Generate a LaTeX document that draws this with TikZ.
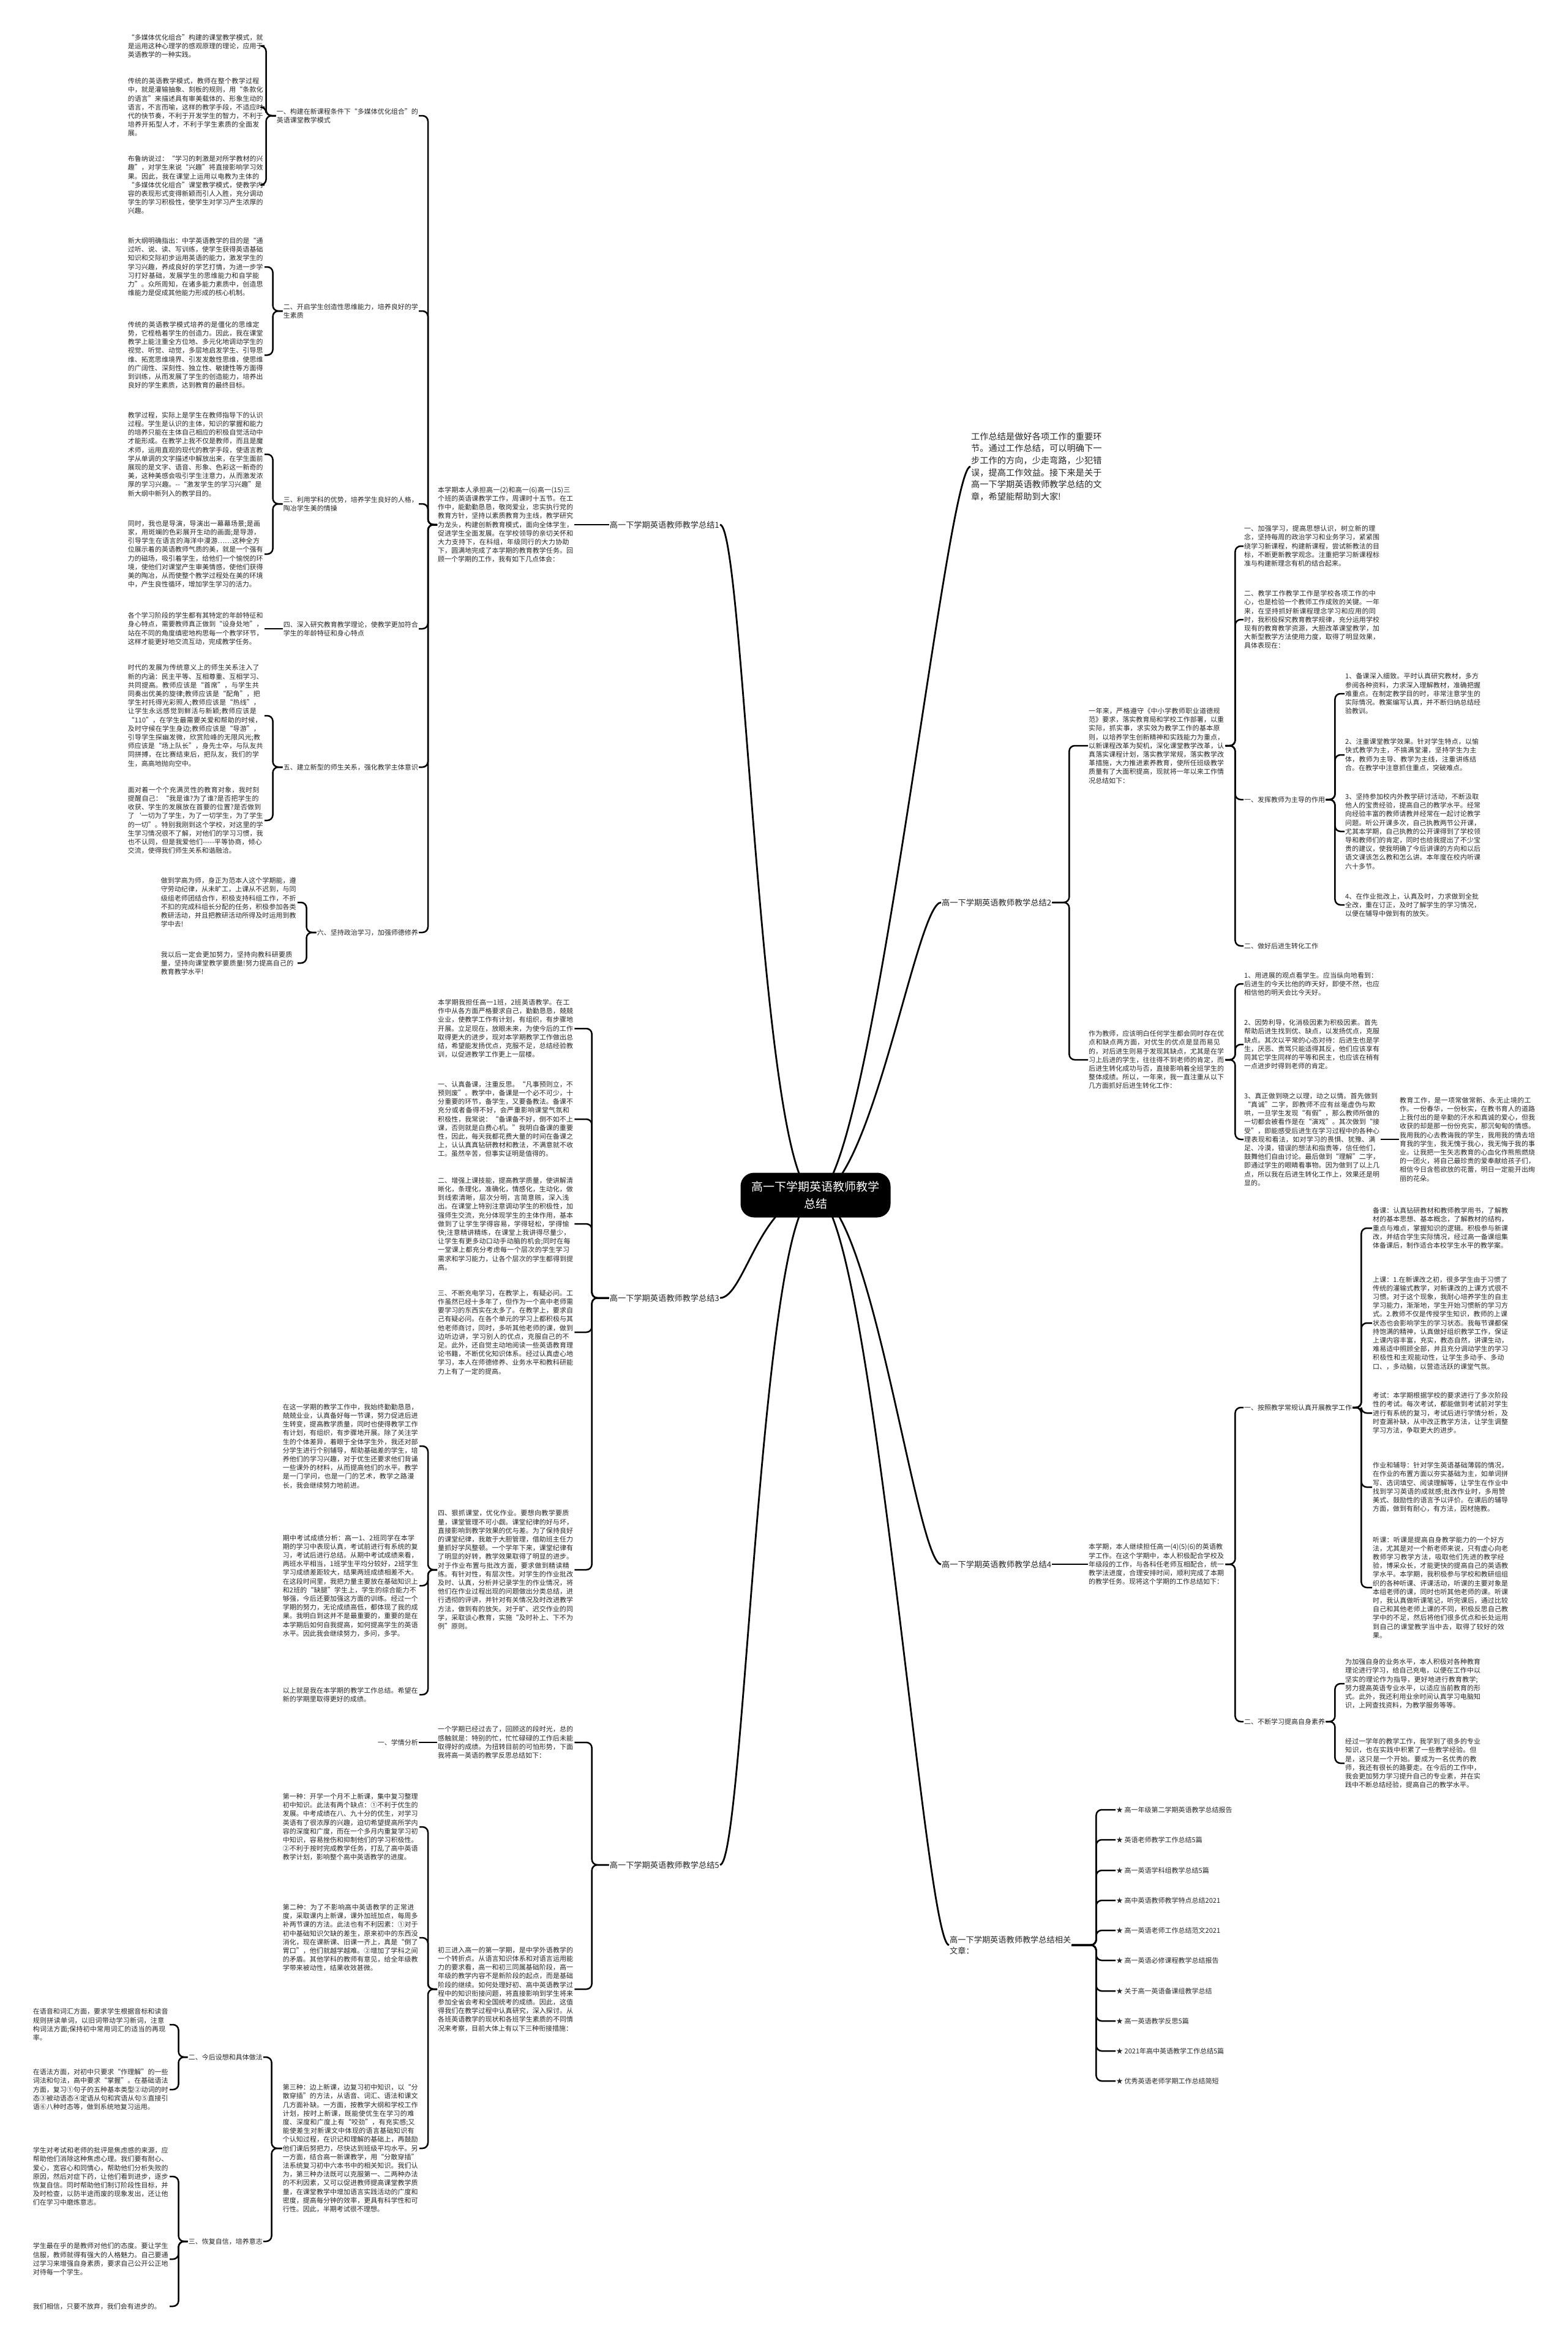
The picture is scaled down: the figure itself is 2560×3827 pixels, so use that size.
\documentclass[tikz,border=0pt]{standalone}
\usepackage{fontspec}
\setmainfont{Noto Sans CJK SC}
\XeTeXlinebreaklocale "zh"
\XeTeXlinebreakskip = 0pt plus 1pt
\usetikzlibrary{positioning}
\pgfdeclarelayer{back}
\pgfsetlayers{back,main}

\tikzstyle{root} = [rectangle, rounded corners=22pt, fill=black, text=white, minimum width=245pt, minimum height=73pt, align=center, font=\fontsize{19}{28}\selectfont]
\tikzstyle{topic} = [inner sep=1pt, text=black!85, font=\fontsize{13.2}{18}\selectfont]
\tikzstyle{intro} = [inner sep=1pt, text width=214pt, align=left, text=black!85, font=\fontsize{14.2}{19.6}\selectfont]
\tikzstyle{sub} = [inner sep=1pt, align=left, text=black!85, font=\fontsize{11}{14.2}\selectfont]
\tikzstyle{leaf} = [inner sep=1pt, text width=222pt, align=left, text=black!85, font=\fontsize{11}{14.2}\selectfont]
\tikzstyle{item} = [inner sep=1pt, anchor=west, text=black!85, font=\fontsize{11}{14}\selectfont]
\tikzstyle{link} = [draw=black, line width=2.5pt, rounded corners=9pt]
\tikzstyle{arm} = [draw=black, line width=2.8pt]

\begin{document}
\begin{tikzpicture}[x=1pt, y=-1pt]
\useasboundingbox (0,0) rectangle (2560,3827);

%% centre and main topics
\node (root) [root] at (1332,1952) {高一下学期英语教师教学\\总结};
\node (intro) [intro, anchor=west] at (1585,762) {工作总结是做好各项工作的重要环节。通过工作总结，可以明确下一步工作的方向，少走弯路，少犯错误，提高工作效益。接下来是关于高一下学期英语教师教学总结的文章，希望能帮助到大家!};
\node (sum1) [topic, anchor=east] at (1176,857) {高一下学期英语教师教学总结1};
\node (sum3) [topic, anchor=east] at (1176,2120) {高一下学期英语教师教学总结3};
\node (sum5) [topic, anchor=east] at (1176,3046) {高一下学期英语教师教学总结5};
\node (sum2) [topic, anchor=west] at (1537,1474) {高一下学期英语教师教学总结2};
\node (sum4) [topic, anchor=west] at (1537,2555) {高一下学期英语教师教学总结4};
\node (sum6) [topic, anchor=west, align=left] at (1550,3177) {高一下学期英语教师教学总结相关\\文章：};

%% summary 1
\node (t1) [leaf, anchor=west] at (714,857) {本学期本人承担高一(2)和高一(6)高一(15)三个班的英语课教学工作，周课时十五节。在工作中，能勤勤恳恳，敬岗爱业，忠实执行党的教育方针，坚持以素质教育为主线，教学研究为龙头，构建创新教育模式，面向全体学生，促进学生全面发展。在学校领导的亲切关怀和大力支持下，在科组，年级同行的大力协助下，圆满地完成了本学期的教育教学任务。回顾一个学期的工作，我有如下几点体会：};
\node (l1a) [sub, anchor=east] at (684,189) {一、构建在新课程条件下“多媒体优化组合”的\\英语课堂教学模式};
\node (l1b) [sub, anchor=east] at (684,508) {二、开启学生创造性思维能力，培养良好的学\\生素质};
\node (l1c) [sub, anchor=east] at (684,823) {三、利用学科的优势，培养学生良好的人格，\\陶冶学生美的情操};
\node (l1d) [sub, anchor=east] at (684,1027) {四、深入研究教育教学理论，使教学更加符合\\学生的年龄特征和身心特点};
\node (l1e) [sub, anchor=east] at (684,1253) {五、建立新型的师生关系，强化教学主体意识};
\node (l1f) [sub, anchor=east] at (684,1523) {六、坚持政治学习，加强师德修养};

\node (t1a1) [leaf, anchor=east] at (432,75) {“多媒体优化组合”构建的课堂教学模式，就是运用这种心理学的感观原理的理论，应用于英语教学的一种实践。};
\node (t1a2) [leaf, anchor=east] at (432,175) {传统的英语教学模式，教师在整个教学过程中，就是灌输抽象、刻板的规则，用“条款化的语言”来描述具有审美载体的、形象生动的语言，不言而喻，这样的教学手段，不适应时代的快节奏，不利于开发学生的智力，不利于培养开拓型人才，不利于学生素质的全面发展。};
\node (t1a3) [leaf, anchor=east] at (432,302) {布鲁纳说过：“学习的刺激是对所学教材的兴趣”，对学生来说“兴趣”将直接影响学习效果。因此，我在课堂上运用以电教为主体的“多媒体优化组合”课堂教学模式，使教学内容的表现形式变得新颖而引人入胜，充分调动学生的学习积极性，使学生对学习产生浓厚的兴趣。};
\node (t1b1) [leaf, anchor=east] at (432,436) {新大纲明确指出：中学英语教学的目的是“通过听、说、读、写训练，使学生获得英语基础知识和交际初步运用英语的能力，激发学生的学习兴趣，养成良好的学艺打情，为进一步学习打好基础，发展学生的思维能力和自学能力”。众所周知，在诸多能力素质中，创造思维能力是促成其他能力形成的核心机制。};
\node (t1b2) [leaf, anchor=east] at (432,580) {传统的英语教学模式培养的是僵化的思维定势，它桎梏着学生的创造力。因此，我在课堂教学上能注重全方位地、多元化地调动学生的视觉、听觉、动觉，多层地启发学生、引导思维、拓宽思维境界、引发发散性思维，使思维的广阔性、深刻性、独立性、敏捷性等方面得到训练，从而发展了学生的创造能力，培养出良好的学生素质，达到教育的最终目标。};
\node (t1c1) [leaf, anchor=east] at (432,742) {教学过程，实际上是学生在教师指导下的认识过程。学生是认识的主体，知识的掌握和能力的培养只能在主体自己相应的积极自觉活动中才能形成。在教学上我不仅是教师，而且是魔术师，运用直观的现代的教学手段，使语言教学从单调的文字描述中解放出来，在学生面前展现的是文字、语音、形象、色彩这一新奇的美，这种美感会吸引学生注意力，从而激发浓厚的学习兴趣。-{}-“激发学生的学习兴趣”是新大纲中新列入的教学目的。};
\node (t1c2) [leaf, anchor=east] at (432,905) {同时，我也是导演，导演出一幕幕场景;是画家，用斑斓的色彩展开生动的画面;是导游，引导学生在语言的海洋中漫游……这种全方位展示着的英语教师气质的美，就是一个强有力的磁场，吸引着学生，给他们一个愉悦的环境，使他们对课堂产生审美情感，使他们获得美的陶冶，从而使整个教学过程处在美的环境中，产生良性循环，增加学生学习的活力。};
\node (t1d1) [leaf, anchor=east] at (432,1027) {各个学习阶段的学生都有其特定的年龄特征和身心特点，需要教师真正做到“设身处地”，站在不同的角度缜密地构思每一个教学环节，这样才能更好地交流互动，完成教学任务。};
\node (t1e1) [leaf, anchor=east] at (432,1169) {时代的发展为传统意义上的师生关系注入了新的内涵：民主平等、互相尊重、互相学习、共同提高。教师应该是“首席”，与学生共同奏出优美的旋律;教师应该是“配角”，把学生衬托得光彩照人;教师应该是“热线”，让学生永远感觉到鲜活与新颖;教师应该是“110”，在学生最需要关爱和帮助的时候，及时守候在学生身边;教师应该是“导游”，引导学生探幽发微，欣赏险峰的无限风光;教师应该是“场上队长”，身先士卒，与队友共同拼搏，在比赛结束后，把队友，我们的学生，高高地抛向空中。};
\node (t1e2) [leaf, anchor=east] at (432,1340) {面对着一个个充满灵性的教育对象，我时刻提醒自己：“我是谁?为了谁?是否把学生的收获、学生的发展放在首要的位置?是否做到了‘一切为了学生，为了一切学生，为了学生的一切”。特别我刚到这个学校，对这里的学生学习情况很不了解，对他们的学习习惯，我也不认同，但是我爱他们-{}-{}-{}-{}-平等协商，倾心交流，使得我们师生关系和谐融洽。};
\node (t1f1) [leaf, anchor=east] at (486,1474) {做到学高为师，身正为范本人这个学期能，遵守劳动纪律，从未旷工，上课从不迟到，与同级组老师团结合作，积极支持科组工作，不折不扣的完成科组长分配的任务，积极参加各类教研活动，并且把教研活动所得及时运用到教学中去!};
\node (t1f2) [leaf, anchor=east] at (486,1573) {我以后一定会更加努力，坚持向教科研要质量，坚持向课堂教学要质量!努力提高自己的教育教学水平!};

%% summary 3
\node (t3a) [leaf, anchor=west] at (714,1680) {本学期我担任高一1班，2班英语教学。在工作中从各方面严格要求自己，勤勤恳恳，兢兢业业，使教学工作有计划，有组织，有步骤地开展。立足现在，放眼未来，为使今后的工作取得更大的进步，现对本学期教学工作做出总结，希望能发扬优点，克服不足，总结经验教训，以促进教学工作更上一层楼。};
\node (t3b) [leaf, anchor=west] at (714,1828) {一、认真备课，注重反思。“凡事预则立，不预则废”。教学中，备课是一个必不可少，十分重要的环节，备学生，又要备教法。备课不充分或者备得不好，会严重影响课堂气氛和积极性，我常说：“备课备不好，倒不如不上课，否则就是白费心机。”我明白备课的重要性，因此，每天我都花费大量的时间在备课之上，认认真真钻研教材和教法，不满意就不收工。虽然辛苦，但事实证明是值得的。};
\node (t3c) [leaf, anchor=west] at (714,1999) {二、增强上课技能，提高教学质量，使讲解清晰化，条理化，准确化，情感化，生动化，做到线索清晰，层次分明，言简意赅，深入浅出。在课堂上特别注意调动学生的积极性，加强师生交流，充分体现学生的主体作用，基本做到了让学生学得容易，学得轻松，学得愉快;注意精讲精练，在课堂上我讲得尽量少，让学生有更多动口动手动脑的机会;同时在每一堂课上都充分考虑每一个层次的学生学习需求和学习能力，让各个层次的学生都得到提高。};
\node (t3d) [leaf, anchor=west] at (714,2176) {三、不断充电学习，在教学上，有疑必问。工作虽然已经十多年了，但作为一个高中老师需要学习的东西实在太多了。在教学上，要求自己有疑必问。在各个单元的学习上都积极与其他老师商讨，同时，多听其他老师的课，做到边听边讲，学习别人的优点，克服自己的不足。此外，还自觉主动地阅读一些英语教育理论书籍，不断优化知识体系。经过认真虚心地学习，本人在师德修养、业务水平和教科研能力上有了一定的提高。};
\node (t3e) [leaf, anchor=west] at (714,2564) {四、狠抓课堂，优化作业。要想向教学要质量，课堂管理不可小觑。课堂纪律的好与坏，直接影响到教学效果的优与差。为了保持良好的课堂纪律，我敢于大胆管理，借助班主任力量抓好学风整顿。一个学年下来，课堂纪律有了明显的好转，教学效果取得了明显的进步。对于作业布置与批改方面，要求做到精读精练。有针对性，有层次性。对学生的作业批改及时、认真，分析并记录学生的作业情况，将他们在作业过程出现的问题做出分类总结，进行透彻的评讲，并针对有关情况及时改进教学方法，做到有的放矢。对于旷、迟交作业的同学，采取谈心教育，实施“及时补上、下不为例”原则。};
\node (t3e1) [leaf, anchor=east] at (685,2362) {在这一学期的教学工作中，我始终勤勤恳恳，兢兢业业，认真备好每一节课，努力促进后进生转变，提高教学质量，同时也使得教学工作有计划，有组织，有步骤地开展。除了关注学生的个体差异，着眼于全体学生外，我还对部分学生进行个别辅导，帮助基础差的学生，培养他们的学习兴趣，对于优生还要求他们背诵一些课外的材料，从而提高他们的水平。教学是一门学问，也是一门的艺术，教学之路漫长，我会继续努力地前进。};
\node (t3e2) [leaf, anchor=east] at (685,2590) {期中考试成绩分析：高一1、2班同学在本学期的学习中表现认真，考试前进行有系统的复习，考试后进行总结。从期中考试成绩来看，两班水平相当，1班学生平均分较好，2班学生学习成绩差距较大，结果两班成绩相差不大。在这段时间里，我把力量主要放在基础知识上和2班的“缺腿”学生上，学生的综合能力不够强，今后还要加强这方面的训练。经过一个学期的努力，无论成绩高低，都体现了我的成果。我明白到这并不是最重要的，重要的是在本学期后如何自我提高，如何提高学生的英语水平。因此我会继续努力，多问，多学。};
\node (t3e3) [leaf, anchor=east] at (685,2768) {以上就是我在本学期的教学工作总结。希望在新的学期里取得更好的成绩。};

%% summary 5
\node (t5a) [leaf, anchor=west] at (714,2846) {一个学期已经过去了，回顾这的段时光，总的感触就是：特别的忙，忙忙碌碌的工作后未能取得好的成绩。为扭转目前的可怕形势，下面我将高一英语的教学反思总结如下：};
\node (l5a) [sub, anchor=east] at (684,2846) {一、学情分析};
\node (t5b) [leaf, anchor=west] at (714,3249) {初三进入高一的第一学期，是中学外语教学的一个转折点。从语言知识体系和对语言运用能力的要求看，高一和初三同属基础阶段，高一年级的教学内容不是新阶段的起点，而是基础阶段的继续。如何处理好初、高中英语教学过程中的知识衔接问题，将直接影响到学生将来参加全省会考和全国统考的成绩。因此，这值得我们在教学过程中认真研究，深入探讨。从各班英语教学的现状和各班学生素质的不同情况来考察，目前大体上有以下三种衔接措施：};
\node (t5b1) [leaf, anchor=east] at (685,2984) {第一种：开学一个月不上新课，集中复习整理初中知识。此法有两个缺点：①不利于优生的发展。中考成绩在八、九十分的优生，对学习英语有了很浓厚的兴趣，迫切希望提高所学内容的深度和广度，而在一个多月内重复学习初中知识，容易挫伤和抑制他们的学习积极性。②不利于按时完成教学任务，打乱了高中英语教学计划，影响整个高中英语教学的进度。};
\node (t5b2) [leaf, anchor=east] at (685,3165) {第二种：为了不影响高中英语教学的正常进度，采取课内上新课，课外加班加点，每周多补两节课的方法。此法也有不利因素：①对于初中基础知识欠缺的差生，原来初中的东西没消化，现在课新课、旧课一齐上，真是“倒了胃口”，他们就越学越难。②增加了学科之间的矛盾。其他学科的教师有意见，给全年级教学带来被动性，结果收效甚微。};
\node (t5b3) [leaf, anchor=east] at (685,3509) {第三种：边上新课，边复习初中知识，以“分散穿插”的方法，从语音、词汇、语法和课文几方面补缺。一方面，按教学大纲和学校工作计划，按时上新课，既能使优生在学习的难度、深度和广度上有“咬劲”，有充实感;又能使差生对新课文中体现的语言基础知识有个认知过程，在识记和理解的基础上，再鼓励他们课后努把力，尽快达到班级平均水平。另一方面，结合高一新课教学，用“分散穿插”法系统复习初中六本书中的相关知识。我们认为，第三种办法既可以克服第一、二两种办法的不利因素，又可以促进教师提高课堂教学质量，在课堂教学中增加语言实践活动的广度和密度，提高每分钟的效率，更具有科学性和可行性。因此，半期考试很不理想。};
\node (l5b) [sub, anchor=east] at (430,3360) {二、今后设想和具体做法};
\node (l5c) [sub, anchor=east] at (430,3661) {三、恢复自信，培养意志};
\node (t5c1) [leaf, anchor=east] at (277,3307) {在语音和词汇方面，要求学生根据音标和读音规则拼读单词，以旧词带动学习新词，注意构词法方面;保持初中常用词汇的适当的再现率。};
\node (t5c2) [leaf, anchor=east] at (277,3413) {在语法方面，对初中只要求“作理解”的一些词法和句法，高中要求“掌握”。在基础语法方面，复习①句子的五种基本类型②动词的时态③被动语态④定语从句和宾语从句⑤直接引语⑥八种时态等，做到系统地复习运用。};
\node (t5d1) [leaf, anchor=east] at (277,3555) {学生对考试和老师的批评是焦虑感的来源，应帮助他们消除这种焦虑心理。我们要有耐心、爱心，宽容心和同情心，帮助他们分析失败的原因，然后对症下药，让他们看到进步，逐步恢复自信。同时帮助他们制订阶段性目标，并及时检查，以防半途而废的现象发出，还让他们在学习中磨炼意志。};
\node (t5d2) [leaf, anchor=east] at (277,3690) {学生最在乎的是教师对他们的态度。要让学生信服，教师就得有强大的人格魅力。自己要通过学习来增强自身素质，要求自己公开公正地对待每一个学生。};
\node (t5d3) [leaf, anchor=east] at (277,3767) {我们相信，只要不放弃，我们会有进步的。};

%% summary 2
\node (t2a) [leaf, anchor=west] at (1777,1218) {一年来，严格遵守《中小学教师职业道德规范》要求，落实教育局和学校工作部署，以重实际，抓实事，求实效为教学工作的基本原则，以培养学生创新精神和实践能力为重点，以新课程改革为契机，深化课堂教学改革，认真落实课程计划，落实教学常规，落实教学改革措施，大力推进素养教育，使所任班级教学质量有了大面积提高，现就将一年以来工作情况总结如下：};
\node (t2a1) [leaf, anchor=west] at (2031,892) {一、加强学习，提高思想认识，树立新的理念，坚持每周的政治学习和业务学习，紧紧围绕学习新课程，构建新课程，尝试新教法的目标，不断更新教学观念。注重把学习新课程标准与构建新理念有机的结合起来。};
\node (t2a2) [leaf, anchor=west] at (2031,1012) {二、教学工作教学工作是学校各项工作的中心，也是检验一个教师工作成败的关键。一年来，在坚持抓好新课程理念学习和应用的同时，我积极探究教育教学规律，充分运用学校现有的教育教学资源，大胆改革课堂教学，加大新型教学方法使用力度，取得了明显效果，具体表现在：};
\node (t2a3) [sub, anchor=west] at (2031,1306) {一、发挥教师为主导的作用};
\node (t2a4) [sub, anchor=west] at (2031,1545) {二、做好后进生转化工作};
\node (t2a3a) [leaf, anchor=west] at (2196,1133) {1、备课深入细致。平时认真研究教材，多方参阅各种资料，力求深入理解教材，准确把握难重点。在制定教学目的时，非常注意学生的实际情况。教案编写认真，并不断归纳总结经验教训。};
\node (t2a3b) [leaf, anchor=west] at (2196,1233) {2、注重课堂教学效果。针对学生特点，以愉快式教学为主，不搞满堂灌，坚持学生为主体，教师为主导、教学为主线，注重讲练结合。在教学中注意抓住重点，突破难点。};
\node (t2a3c) [leaf, anchor=west] at (2196,1358) {3、坚持参加校内外教学研讨活动，不断汲取他人的宝贵经验，提高自己的教学水平。经常向经验丰富的教师请教并经常在一起讨论教学问题。听公开课多次，自己执教两节公开课，尤其本学期，自己执教的公开课得到了学校领导和教师们的肯定，同时也给我提出了不少宝贵的建议，使我明确了今后讲课的方向和以后语文课该怎么教和怎么讲。本年度在校内听课六十多节。};
\node (t2a3d) [leaf, anchor=west] at (2196,1478) {4、在作业批改上，认真及时，力求做到全批全改，重在订正，及时了解学生的学习情况，以便在辅导中做到有的放矢。};
\node (t2b) [leaf, anchor=west] at (1777,1731) {作为教师，应该明白任何学生都会同时存在优点和缺点两方面，对优生的优点是显而易见的，对后进生则易于发现其缺点，尤其是在学习上后进的学生，往往得不到老师的肯定，而后进生转化成功与否，直接影响着全班学生的整体成绩。所以，一年来，我一直注重从以下几方面抓好后进生转化工作：};
\node (t2b1) [leaf, anchor=west] at (2031,1607) {1、用进展的观点看学生。应当纵向地看到：后进生的今天比他的昨天好，即使不然，也应相信他的明天会比今天好。};
\node (t2b2) [leaf, anchor=west] at (2031,1706) {2、因势利导，化消极因素为积极因素。首先帮助后进生找到优、缺点，以发扬优点，克服缺点。其次以平常的心态对待：后进生也是学生，厌恶、责骂只能适得其反，他们应该享有同其它学生同样的平等和民主，也应该在稍有一点进步时得到老师的肯定。};
\node (t2b3) [leaf, anchor=west] at (2031,1861) {3、真正做到晓之以理，动之以情。首先做到“真诚”二字，即教师不应有丝毫虚伪与欺哄，一旦学生发现“有假”，那么教师所做的一切都会被看作是在“演戏”。其次做到“接受”，即能感受后进生在学习过程中的各种心理表现和看法，如对学习的畏惧、犹豫、满足、冷漠，错误的想法和指责等，信任他们，鼓舞他们自由讨论。最后做到“理解”二字，即通过学生的眼睛看事物。因为做到了以上几点，所以我在后进生转化工作上，效果还是明显的。};
\node (t2b3a) [leaf, anchor=west] at (2285,1861) {教育工作，是一项常做常新、永无止境的工作。一份春华，一份秋实，在教书育人的道路上我付出的是辛勤的汗水和真诚的爱心，但我收获的却是那一份份充实，那沉甸甸的情感。我用我的心去教诲我的学生，我用我的情去培育我的学生，我无愧于我心，我无悔于我的事业。让我把一生矢志教育的心血化作熊熊燃烧的一团火，将自己最珍贵的爱奉献给孩子们，相信今日含苞欲放的花蕾，明日一定能开出绚丽的花朵。};

%% summary 4
\node (t4a) [leaf, anchor=west] at (1777,2555) {本学期，本人继续担任高一(4)(5)(6)的英语教学工作。在这个学期中，本人积极配合学校及年级段的工作，与各科任老师互相配合，统一教学法进度，合理安排时间，顺利完成了本期的教学任务。现将这个学期的工作总结如下：};
\node (t4a1) [sub, anchor=west] at (2031,2299) {一、按照教学常规认真开展教学工作};
\node (t4a2) [sub, anchor=west] at (2031,2812) {二、不断学习提高自身素养};
\node (t4b1) [leaf, anchor=west] at (2241,2006) {备课：认真钻研教材和教师教学用书，了解教材的基本思想、基本概念，了解教材的结构，重点与难点，掌握知识的逻辑。积极参与新课改，并结合学生实际情况，经过高一备课组集体备课后，制作适合本校学生水平的教学案。};
\node (t4b2) [leaf, anchor=west] at (2241,2161) {上课：1.在新课改之初，很多学生由于习惯了传统的灌输式教学，对新课改的上课方式很不习惯。对于这个现象，我耐心培养学生的自主学习能力，渐渐地，学生开始习惯新的学习方式。2.教师不仅是传授学生知识，教师的上课状态也会影响学生的学习状态。我每节课都保持饱满的精神，认真做好组织教学工作，保证上课内容丰富，充实，教态自然，讲课生动，难易适中照顾全部，并且充分调动学生的学习积极性和主观能动性，让学生多动手、多动口、，多动脑，以营造活跃的课堂气氛。};
\node (t4b3) [leaf, anchor=west] at (2241,2308) {考试：本学期根据学校的要求进行了多次阶段性的考试。每次考试，都能做到考试前对学生进行有系统的复习，考试后进行学情分析，及时查漏补缺，从中改正教学方法，让学生调整学习方法，争取更大的进步。};
\node (t4b4) [leaf, anchor=west] at (2241,2429) {作业和辅导：针对学生英语基础薄弱的情况，在作业的布置方面以夯实基础为主，如单词拼写、选词填空、阅读理解等，让学生在作业中找到学习英语的成就感;批改作业时，多用赞美式、鼓励性的语言予以评价。在课后的辅导方面，做到有耐心，有方法，因材施教。};
\node (t4b5) [leaf, anchor=west] at (2241,2593) {听课：听课是提高自身教学能力的一个好方法，尤其是对一个新老师来说，只有虚心向老教师学习教学方法，吸取他们先进的教学经验，博采众长，才能更快的提高自己的英语教学水平。本学期，我积极参与学校和教研组组织的各种听课、评课活动，听课的主要对象是本组老师的课，同时也听其他老师的课。听课时，我认真做听课笔记，听完课后，通过比较自己和其他老师上课的不同，积极反思自己教学中的不足，然后将他们很多优点和长处运用到自己的课堂教学当中去，取得了较好的效果。};
\node (t4c1) [leaf, anchor=west] at (2196,2750) {为加强自身的业务水平，本人积极对各种教育理论进行学习，给自己充电，以便在工作中以坚实的理论作为指导，更好地进行教育教学;努力提高英语专业水平，以适应当前教育的形式。此外，我还利用业余时间认真学习电脑知识，上网查找资料，为教学服务等等。};
\node (t4c2) [leaf, anchor=west] at (2196,2880) {经过一学年的教学工作，我学到了很多的专业知识，也在实践中积累了一些教学经验。但是，这只是一个开始。要成为一名优秀的教师，我还有很长的路要走。在今后的工作中，我会更加努力学习提升自己的专业素，并在实践中不断总结经验，提高自己的教学水平。};

%% related articles
\node (rel1) [item] at (1822,2956) {★ 高一年级第二学期英语教学总结报告};
\node (rel2) [item] at (1822,3005) {★ 英语老师教学工作总结5篇};
\node (rel3) [item] at (1822,3055) {★ 高一英语学科组教学总结5篇};
\node (rel4) [item] at (1822,3104) {★ 高中英语教师教学特点总结2021};
\node (rel5) [item] at (1822,3153) {★ 高一英语老师工作总结范文2021};
\node (rel6) [item] at (1822,3202) {★ 高一英语必修课程教学总结报告};
\node (rel7) [item] at (1822,3252) {★ 关于高一英语备课组教学总结};
\node (rel8) [item] at (1822,3301) {★ 高一英语教学反思5篇};
\node (rel9) [item] at (1822,3350) {★ 2021年高中英语教学工作总结5篇};
\node (rel10) [item] at (1822,3399) {★ 优秀英语老师学期工作总结简短};

%% curves from the centre
\begin{pgfonlayer}{back}
\draw [arm] (root.center) .. controls +(-90,0) and +(40,0) .. (sum1.east);
\draw [arm] (root.center) .. controls +(-90,0) and +(40,0) .. (sum3.east);
\draw [arm] (root.center) .. controls +(-90,0) and +(40,0) .. (sum5.east);
\draw [arm] (root.center) .. controls +(90,0) and +(-40,0) .. (intro.west);
\draw [arm] (root.center) .. controls +(90,0) and +(-40,0) .. (sum2.west);
\draw [arm] (root.center) .. controls +(90,0) and +(-40,0) .. (sum4.west);
\draw [arm] (root.center) .. controls +(90,0) and +(-40,0) .. (sum6.west);
\end{pgfonlayer}

%% connectors, left side
\draw [link] (sum1.west) -- (t1.east);
\draw [link] (t1.west) -- ++(-15,0) |- (l1a.east);
\draw [link] (t1.west) -- ++(-15,0) |- (l1b.east);
\draw [link] (t1.west) -- ++(-15,0) |- (l1c.east);
\draw [link] (t1.west) -- ++(-15,0) |- (l1d.east);
\draw [link] (t1.west) -- ++(-15,0) |- (l1e.east);
\draw [link] (t1.west) -- ++(-15,0) |- (l1f.east);
\draw [link] (l1a.west) -- ++(-16,0) |- (t1a1.east);
\draw [link] (l1a.west) -- ++(-16,0) |- (t1a2.east);
\draw [link] (l1a.west) -- ++(-16,0) |- (t1a3.east);
\draw [link] (l1b.west) -- ++(-16,0) |- (t1b1.east);
\draw [link] (l1b.west) -- ++(-16,0) |- (t1b2.east);
\draw [link] (l1c.west) -- ++(-16,0) |- (t1c1.east);
\draw [link] (l1c.west) -- ++(-16,0) |- (t1c2.east);
\draw [link] (l1d.west) -- (t1d1.east);
\draw [link] (l1e.west) -- ++(-16,0) |- (t1e1.east);
\draw [link] (l1e.west) -- ++(-16,0) |- (t1e2.east);
\draw [link] (l1f.west) -- ++(-16,0) |- (t1f1.east);
\draw [link] (l1f.west) -- ++(-16,0) |- (t1f2.east);

\draw [link] (sum3.west) -- ++(-28,0) |- (t3a.east);
\draw [link] (sum3.west) -- ++(-28,0) |- (t3b.east);
\draw [link] (sum3.west) -- ++(-28,0) |- (t3c.east);
\draw [link] (sum3.west) -- ++(-28,0) |- (t3d.east);
\draw [link] (sum3.west) -- ++(-28,0) |- (t3e.east);
\draw [link] (t3e.west) -- ++(-15,0) |- (t3e1.east);
\draw [link] (t3e.west) -- ++(-15,0) |- (t3e2.east);
\draw [link] (t3e.west) -- ++(-15,0) |- (t3e3.east);

\draw [link] (sum5.west) -- ++(-28,0) |- (t5a.east);
\draw [link] (sum5.west) -- ++(-28,0) |- (t5b.east);
\draw [link] (t5a.west) -- (l5a.east);
\draw [link] (t5b.west) -- ++(-15,0) |- (t5b1.east);
\draw [link] (t5b.west) -- ++(-15,0) |- (t5b2.east);
\draw [link] (t5b.west) -- ++(-15,0) |- (t5b3.east);
\draw [link] (t5b3.west) -- ++(-17,0) |- (l5b.east);
\draw [link] (t5b3.west) -- ++(-17,0) |- (l5c.east);
\draw [link] (l5b.west) -- ++(-15,0) |- (t5c1.east);
\draw [link] (l5b.west) -- ++(-15,0) |- (t5c2.east);
\draw [link] (l5c.west) -- ++(-15,0) |- (t5d1.east);
\draw [link] (l5c.west) -- ++(-15,0) |- (t5d2.east);
\draw [link] (l5c.west) -- ++(-15,0) |- (t5d3.east);

%% connectors, right side
\draw [link] (sum2.east) -- ++(28,0) |- (t2a.west);
\draw [link] (sum2.east) -- ++(28,0) |- (t2b.west);
\draw [link] (t2a.east) -- ++(16,0) |- (t2a1.west);
\draw [link] (t2a.east) -- ++(16,0) |- (t2a2.west);
\draw [link] (t2a.east) -- ++(16,0) |- (t2a3.west);
\draw [link] (t2a.east) -- ++(16,0) |- (t2a4.west);
\draw [link] (t2a3.east) -- ++(15,0) |- (t2a3a.west);
\draw [link] (t2a3.east) -- ++(15,0) |- (t2a3b.west);
\draw [link] (t2a3.east) -- ++(15,0) |- (t2a3c.west);
\draw [link] (t2a3.east) -- ++(15,0) |- (t2a3d.west);
\draw [link] (t2b.east) -- ++(16,0) |- (t2b1.west);
\draw [link] (t2b.east) -- ++(16,0) |- (t2b2.west);
\draw [link] (t2b.east) -- ++(16,0) |- (t2b3.west);
\draw [link] (t2b3.east) -- (t2b3a.west);

\draw [link] (sum4.east) -- (t4a.west);
\draw [link] (t4a.east) -- ++(16,0) |- (t4a1.west);
\draw [link] (t4a.east) -- ++(16,0) |- (t4a2.west);
\draw [link] (t4a1.east) -- ++(14,0) |- (t4b1.west);
\draw [link] (t4a1.east) -- ++(14,0) |- (t4b2.west);
\draw [link] (t4a1.east) -- ++(14,0) |- (t4b3.west);
\draw [link] (t4a1.east) -- ++(14,0) |- (t4b4.west);
\draw [link] (t4a1.east) -- ++(14,0) |- (t4b5.west);
\draw [link] (t4a2.east) -- ++(15,0) |- (t4c1.west);
\draw [link] (t4a2.east) -- ++(15,0) |- (t4c2.west);

\draw [link] (sum6.east) -- ++(40,0) |- (rel1.west);
\draw [link] (sum6.east) -- ++(40,0) |- (rel2.west);
\draw [link] (sum6.east) -- ++(40,0) |- (rel3.west);
\draw [link] (sum6.east) -- ++(40,0) |- (rel4.west);
\draw [link] (sum6.east) -- ++(40,0) |- (rel5.west);
\draw [link] (sum6.east) -- ++(40,0) |- (rel6.west);
\draw [link] (sum6.east) -- ++(40,0) |- (rel7.west);
\draw [link] (sum6.east) -- ++(40,0) |- (rel8.west);
\draw [link] (sum6.east) -- ++(40,0) |- (rel9.west);
\draw [link] (sum6.east) -- ++(40,0) |- (rel10.west);
\end{tikzpicture}
\end{document}
